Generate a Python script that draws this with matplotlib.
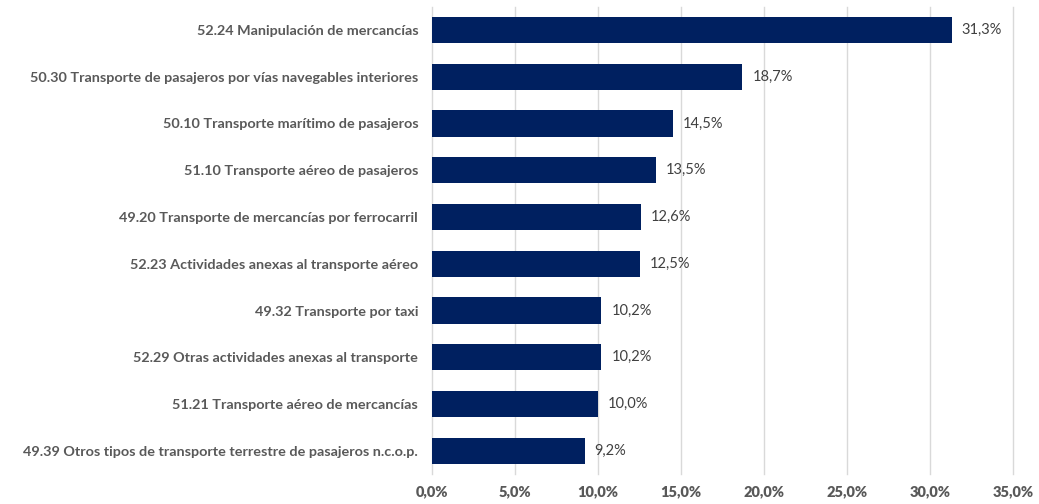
import matplotlib.pyplot as plt

# data, top bar first
categories = [
    "52.24 Manipulación de mercancías",
    "50.30 Transporte de pasajeros por vías navegables interiores",
    "50.10 Transporte marítimo de pasajeros",
    "51.10 Transporte aéreo de pasajeros",
    "49.20 Transporte de mercancías por ferrocarril",
    "52.23 Actividades anexas al transporte aéreo",
    "49.32 Transporte por taxi",
    "52.29 Otras actividades anexas al transporte",
    "51.21 Transporte aéreo de mercancías",
    "49.39 Otros tipos de transporte terrestre de pasajeros n.c.o.p.",
]
values = [31.3, 18.7, 14.5, 13.5, 12.6, 12.5, 10.2, 10.2, 10.0, 9.2]
xticks = [0, 5, 10, 15, 20, 25, 30, 35]
xticklabels = ["0,0%", "5,0%", "10,0%", "15,0%", "20,0%", "25,0%", "30,0%", "35,0%"]

plt.rcParams['font.family'] = ['Lato', 'DejaVu Sans']
gray = '#595959'
navy = '#002060'

fig = plt.figure(figsize=(10.39, 5.04), dpi=100)
ax = fig.add_axes([0.4158, 0.059, 0.5592, 0.928])

ypos = list(range(len(categories)))
ax.barh(ypos, values, height=0.56, color=navy, zorder=3)

for y, v in zip(ypos, values):
    ax.text(v + 0.6, y, f"{v:.1f}%".replace('.', ','), va='center', ha='left',
            fontsize=10.5, color='#404040')

ax.set_yticks(ypos)
ax.set_yticklabels(categories, fontsize=10.4, fontweight='bold', color=gray)
ax.set_ylim(len(categories) - 0.5, -0.5)
ax.set_xlim(0, 35)
ax.set_xticks(xticks)
ax.set_xticklabels(xticklabels, fontsize=10.5, fontweight='heavy', color=gray)

ax.grid(axis='x', color='#d9d9d9', linewidth=1, zorder=0)
for gl in ax.get_xgridlines():
    gl.set_clip_on(False)
ax.tick_params(length=0)
ax.tick_params(axis='x', pad=8)
ax.tick_params(axis='y', pad=10)
for s in ax.spines.values():
    s.set_visible(False)

fig.savefig('out.png', dpi=100)
